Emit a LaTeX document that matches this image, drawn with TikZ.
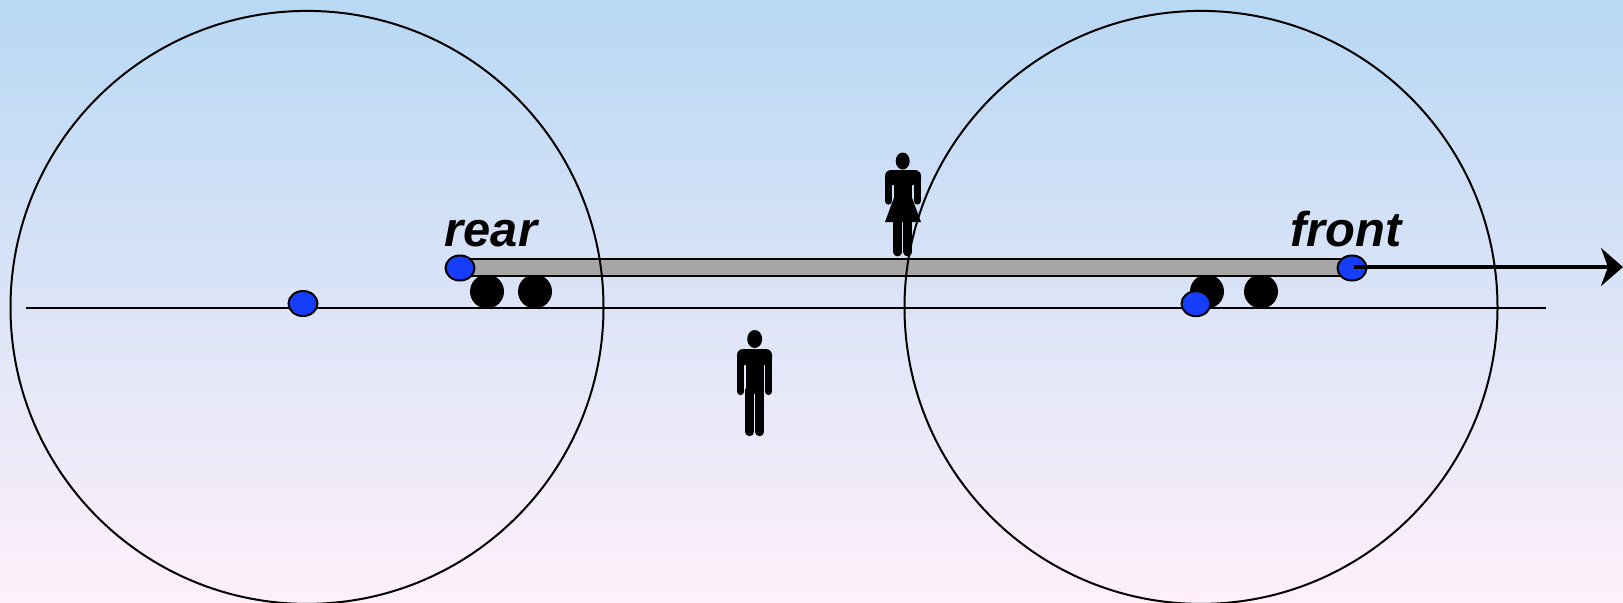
\documentclass[tikz,border=0pt]{standalone}
\usepackage{fontspec}
\setmainfont{Liberation Sans}
\usetikzlibrary{arrows.meta,shapes.geometric}
\definecolor{skytop}{RGB}{184,216,244}
\definecolor{skymid}{RGB}{215,224,241}
\definecolor{skybot}{RGB}{255,240,250}
\definecolor{pinblue}{RGB}{22,62,250}
\definecolor{beamgrey}{RGB}{166,166,166}
\tikzset{
  bigcircle/.style={circle,draw=black,line width=1pt,minimum size=296.5pt,inner sep=0pt,fill=none},
  wheelnode/.style={circle,fill=black,minimum size=17pt,inner sep=0pt},
  pinnode/.style={ellipse,draw=black,line width=1pt,fill=pinblue,minimum width=14.5pt,minimum height=12.5pt,inner sep=0pt},
  beamnode/.style={rectangle,draw=black,line width=1pt,fill=beamgrey,inner sep=0pt},
  labeltext/.style={font=\fontsize{24.4}{25}\selectfont\bfseries\itshape,inner sep=0pt,anchor=base},
  limb/.style={line width=#1,line cap=round,draw=black},
}
\begin{document}
\begin{tikzpicture}[x=0.5pt,y=-0.5pt]
\useasboundingbox (0,0) rectangle (1623,602);
\shade[top color=skytop,middle color=skymid,bottom color=skybot] (0,0) rectangle (1623,602);
% woman
\fill (902.7,161) ellipse[x radius=7,y radius=8.5];
\fill[rounded corners=3pt] (885,185) -- (885,170) -- (921,170) -- (921,185) -- cycle;
\draw[limb=3.6pt] (888.6,178) -- (888.6,201);
\draw[limb=3.6pt] (917.2,178) -- (917.2,201);
\fill (894,172) rectangle (912,198);
\fill (895,195) -- (911,195) -- (921,222) -- (885,222) -- cycle;
\draw[limb=4.4pt] (897.8,220) -- (897.8,252);
\draw[limb=4.4pt] (907.8,220) -- (907.8,252);
% man
\fill (754.7,339) ellipse[x radius=7.5,y radius=9];
\fill[rounded corners=3pt] (737,365) -- (737,349) -- (772,349) -- (772,365) -- cycle;
\draw[limb=3.6pt] (740.6,358) -- (740.6,391.5);
\draw[limb=3.6pt] (768.4,358) -- (768.4,391.5);
\fill (745.5,352) rectangle (764,394);
\draw[limb=4.4pt] (749.8,390) -- (749.8,431.8);
\draw[limb=4.4pt] (759.6,390) -- (759.6,431.8);
% wheels
\node[wheelnode] (w1) at (487,291.5) {};
\node[wheelnode] (w2) at (535,291.5) {};
\node[wheelnode] (w3) at (1207,291.5) {};
\node[wheelnode] (w4) at (1261,291.5) {};
% beam and ground
\node[beamnode,minimum width=446pt,minimum height=8.2pt] (beam) at (906,267.6) {};
\coordinate (gl) at (26,307.6);
\coordinate (gr) at (1546,307.6);
\draw[line width=1pt] (gl) -- (gr);
% circles
\node[bigcircle] (cl) at (307,307.4) {};
\node[bigcircle] (cr) at (1201,307.4) {};
% pins
\node[pinnode] (rearpin) at (460,268) {};
\node[pinnode] (frontpin) at (1352,268) {};
\node[pinnode] (leftpin) at (303,303.5) {};
\node[pinnode] (lowpin) at (1196,303.7) {};
% arrow
\coordinate (tipend) at (1623,267);
\draw[line width=2pt,-{Stealth[length=11pt,width=19pt,inset=3.5pt]}] ([xshift=1pt]frontpin.center |- tipend) -- (tipend);
% labels
\node[labeltext] (rear) at (491,246) {rear};
\node[labeltext] (front) at (1346,246) {front};
\end{tikzpicture}
\end{document}
